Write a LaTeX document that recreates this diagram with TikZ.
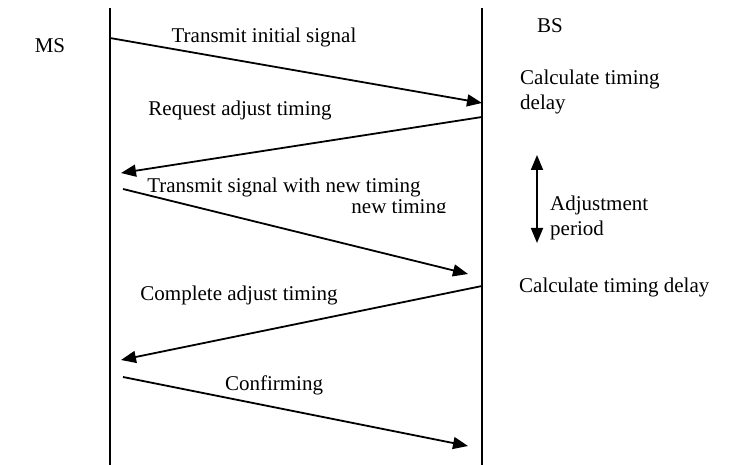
\documentclass[tikz,border=0pt]{standalone}
\usepackage{fontspec}
\setmainfont{Liberation Serif}
\usetikzlibrary{arrows.meta}
\begin{document}
\begin{tikzpicture}[x=1pt,y=-1pt,
  lbl/.style={font=\fontsize{21}{25}\selectfont, inner sep=0pt},
  tip/.tip={Triangle[length=15pt,width=12pt]},
  msg/.style={line width=1.8pt, -tip},
  life/.style={line width=1.3pt}]
\useasboundingbox (0,0) rectangle (729,465);
\coordinate (mstop) at (110,8);
\coordinate (msbot) at (110,465);
\coordinate (bstop) at (482,8);
\coordinate (bsbot) at (482,465);
\draw[life] (mstop) -- (msbot);
\draw[life] (bstop) -- (bsbot);
\node[lbl] (ms) at (50,46) {MS};
\node[lbl] (bs) at (550,26) {BS};
% messages
\coordinate (a1s) at (110,38);  \coordinate (a1e) at (482,103);
\coordinate (a2s) at (482,117); \coordinate (a2e) at (121,173);
\coordinate (a3s) at (123,189); \coordinate (a3e) at (468,274);
\coordinate (a4s) at (482,286); \coordinate (a4e) at (121,360);
\coordinate (a5s) at (123,377); \coordinate (a5e) at (468,446);
\draw[msg] (a1s) -- (a1e);
\draw[msg] (a2s) -- (a2e);
\draw[msg] (a3s) -- (a3e);
\draw[msg] (a4s) -- (a4e);
\draw[msg] (a5s) -- (a5e);
\node[lbl] (t1) at (264,37) {Transmit initial signal};
\node[lbl] (t2) at (240,110) {Request adjust timing};
\node[lbl] (t3) at (284,187) {Transmit signal with new timing};
\begin{scope}
\clip (300,197) rectangle (470,213);
\node[lbl] (t3b) at (399,209) {new timing};
\end{scope}
\node[lbl] (t4) at (239,295) {Complete adjust timing};
\node[lbl] (t5) at (274,385) {Confirming};
% right side
\node[lbl, anchor=west, align=left] (c1) at (520,92) {Calculate timing\\delay};
\coordinate (dtop) at (537,155);
\coordinate (dbot) at (537,243);
\draw[line width=1.8pt, tip-tip] (dtop) -- (dbot);
\node[lbl, anchor=west, align=left] (adj) at (550,218) {Adjustment\\period};
\node[lbl, anchor=west] (c2) at (519,287) {Calculate timing delay};
\end{tikzpicture}
\end{document}
